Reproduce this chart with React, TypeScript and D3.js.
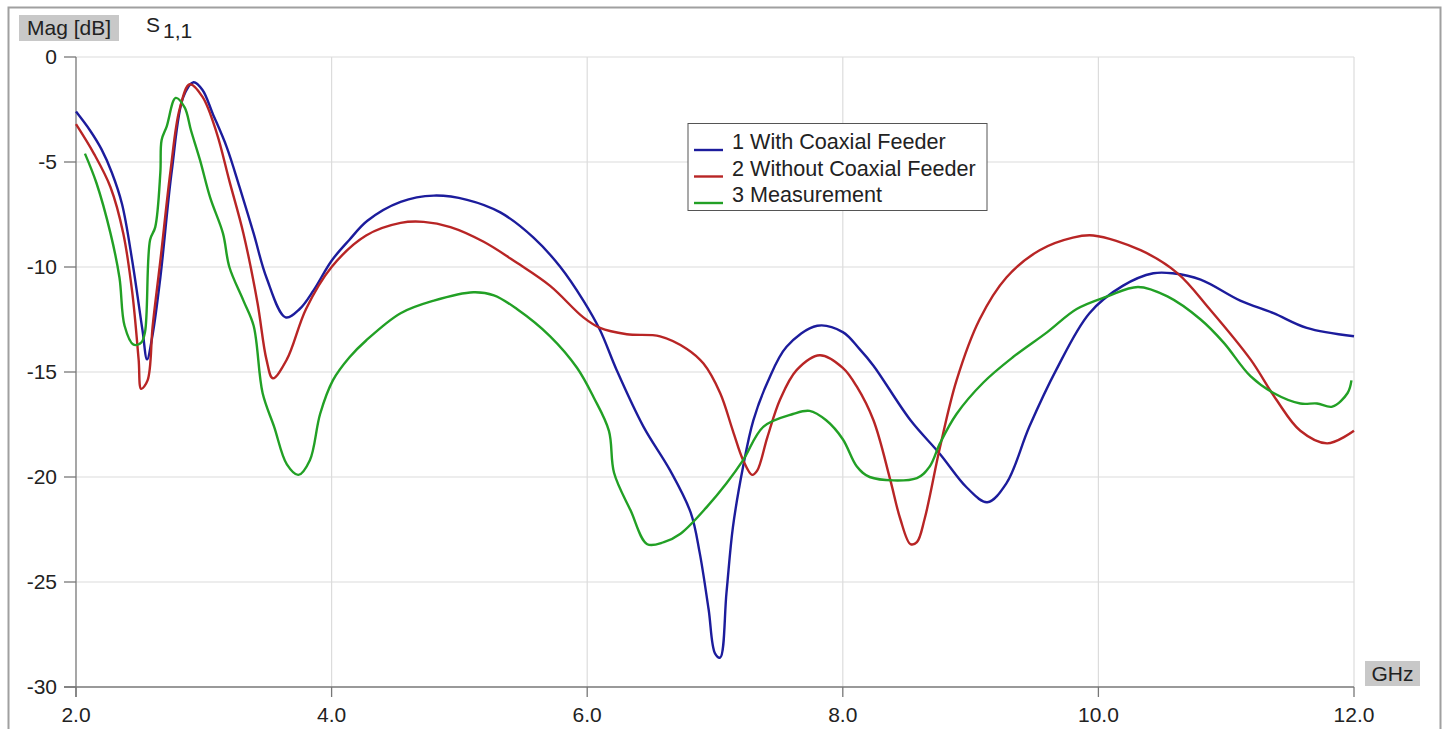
import React from "react";
import * as d3 from "d3";

const xTicks = [2, 4, 6, 8, 10, 12];
const yTicks = [0, -5, -10, -15, -20, -25, -30];
const seriesNames = ["1 With Coaxial Feeder", "2 Without Coaxial Feeder", "3 Measurement"];
const seriesColors = ["#1c1c9c", "#b82525", "#22a025"];

const withFreq = [2.0, 2.11, 2.2, 2.28, 2.36, 2.44, 2.52, 2.556, 2.6, 2.66, 2.75, 2.84, 2.92, 2.99, 3.07, 3.18, 3.28, 3.39, 3.49, 3.64, 3.75, 3.86, 4.0, 4.14, 4.28, 4.54, 4.8, 5.06, 5.32, 5.58, 5.79, 5.97, 6.1, 6.23, 6.44, 6.65, 6.81, 6.88, 6.95, 7.0, 7.04, 7.09, 7.14, 7.22, 7.3, 7.41, 7.56, 7.8, 8.0, 8.13, 8.24, 8.53, 8.76, 8.97, 9.13, 9.28, 9.46, 9.67, 9.93, 10.19, 10.43, 10.58, 10.8, 11.11, 11.37, 11.63, 12.0];
const withMag = [-2.6, -3.5, -4.4, -5.5, -7.0, -9.7, -13.0, -14.4, -13.2, -10.5, -5.4, -1.9, -1.2, -1.57, -2.7, -4.3, -6.2, -8.4, -10.5, -12.4, -12.0, -11.1, -9.7, -8.7, -7.8, -6.9, -6.6, -6.8, -7.4, -8.6, -10.0, -11.6, -13.0, -14.9, -17.6, -19.7, -21.7, -23.6, -26.3, -28.4, -28.6, -25.5, -22.4, -19.5, -17.3, -15.5, -13.8, -12.8, -13.1, -13.9, -14.7, -17.3, -18.9, -20.5, -21.2, -20.3, -17.6, -14.9, -12.2, -10.9, -10.3, -10.3, -10.6, -11.6, -12.2, -12.9, -13.3];

const withoutFreq = [2.0, 2.14, 2.27, 2.37, 2.44, 2.49, 2.51, 2.56, 2.6, 2.66, 2.74, 2.81, 2.89, 2.99, 3.1, 3.2, 3.31, 3.42, 3.49, 3.54, 3.65, 3.8, 4.0, 4.27, 4.54, 4.72, 4.93, 5.19, 5.45, 5.71, 5.97, 6.1, 6.31, 6.57, 6.78, 6.91, 7.04, 7.14, 7.22, 7.29, 7.33, 7.41, 7.51, 7.64, 7.82, 8.0, 8.11, 8.24, 8.37, 8.45, 8.53, 8.58, 8.64, 8.76, 8.89, 9.07, 9.28, 9.54, 9.8, 9.96, 10.33, 10.62, 10.87, 11.19, 11.39, 11.58, 11.79, 12.0];
const withoutMag = [-3.2, -4.6, -6.2, -8.4, -11.2, -14.4, -15.8, -15.4, -12.8, -9.7, -5.4, -2.5, -1.3, -1.9, -3.6, -5.9, -8.4, -11.7, -14.4, -15.3, -14.4, -12.0, -10.0, -8.5, -7.9, -7.85, -8.1, -8.8, -9.8, -10.9, -12.4, -12.9, -13.2, -13.3, -13.9, -14.6, -16.0, -17.8, -19.2, -19.9, -19.7, -18.1, -16.3, -14.9, -14.2, -14.8, -15.7, -17.3, -20.1, -22.0, -23.2, -23.1, -22.0, -18.6, -15.4, -12.5, -10.5, -9.2, -8.6, -8.5, -9.2, -10.3, -12.0, -14.4, -16.3, -17.8, -18.4, -17.8];

const measFreq = [2.07, 2.16, 2.27, 2.34, 2.38, 2.45, 2.51, 2.54, 2.58, 2.62, 2.66, 2.67, 2.71, 2.78, 2.85, 2.9, 2.97, 3.05, 3.15, 3.2, 3.31, 3.39, 3.46, 3.55, 3.65, 3.74, 3.83, 3.91, 4.01, 4.14, 4.27, 4.54, 4.8, 5.11, 5.27, 5.45, 5.71, 5.92, 6.05, 6.17, 6.21, 6.34, 6.47, 6.6, 6.73, 6.94, 7.09, 7.22, 7.38, 7.61, 7.74, 7.87, 8.0, 8.11, 8.21, 8.58, 8.68, 8.76, 8.89, 9.1, 9.33, 9.6, 9.83, 10.07, 10.31, 10.54, 10.8, 10.98, 11.19, 11.37, 11.58, 11.71, 11.83, 11.95, 11.98];
const measMag = [-4.6, -6.0, -8.4, -10.5, -12.8, -13.7, -13.6, -13.1, -8.7, -8.1, -5.5, -3.95, -3.3, -1.95, -2.4, -3.5, -4.9, -6.7, -8.4, -10.0, -11.6, -12.8, -16.0, -17.6, -19.4, -19.9, -19.2, -17.0, -15.4, -14.3, -13.5, -12.2, -11.6, -11.2, -11.35, -12.0, -13.3, -14.8, -16.2, -17.8, -19.8, -21.6, -23.2, -23.1, -22.7, -21.4, -20.3, -19.2, -17.6, -17.0, -16.85, -17.3, -18.2, -19.5, -20.0, -20.05, -19.5, -18.4, -17.0, -15.5, -14.3, -13.1, -12.0, -11.4, -10.95, -11.4, -12.5, -13.6, -15.2, -16.0, -16.5, -16.5, -16.65, -16.0, -15.4];

const seriesFreqs = [withFreq, withoutFreq, measFreq];
const seriesMags = [withMag, withoutMag, measMag];

export default function App() {
  const W = 1446, H = 729;
  const left = 76, right = 1354, top = 57, bottom = 687;
  const x = d3.scaleLinear().domain([2, 12]).range([left, right]);
  const y = d3.scaleLinear().domain([0, -30]).range([top, bottom]);
  const font = "'Liberation Sans', Arial, sans-serif";

  const paths = seriesFreqs.map((fs, i) => {
    const pts: [number, number][] = fs.map((f, j) => [f, seriesMags[i][j]]);
    const line = d3.line<[number, number]>()
      .x(d => x(d[0]))
      .y(d => y(d[1]))
      .curve(d3.curveCatmullRom.alpha(0.5));
    return line(pts) || "";
  });

  return (
    <svg width={W} height={H} style={{ position: "absolute", left: 0, top: 0, background: "#fff" }} fontFamily={font}>
      <rect x={0} y={0} width={W} height={H} fill="#fff" />
      {/* outer frame */}
      <path d={`M8.5,${H + 5} V7.5 H1440.5 V${H + 5}`} fill="none" stroke="#a0a0a0" strokeWidth={2} />
      {/* grid */}
      {yTicks.filter(t => t !== -30).map(t => (
        <line key={"gy" + t} x1={left} x2={right} y1={y(t)} y2={y(t)} stroke="#dcdcdc" strokeWidth={1.2} />
      ))}
      {xTicks.filter(t => t !== 2).map(t => (
        <line key={"gx" + t} x1={x(t)} x2={x(t)} y1={top} y2={bottom} stroke="#dcdcdc" strokeWidth={1.2} />
      ))}
      {/* axes */}
      <line x1={left} x2={left} y1={top} y2={bottom + 10} stroke="#777" strokeWidth={1.3} />
      <line x1={left - 12} x2={right} y1={bottom} y2={bottom} stroke="#777" strokeWidth={1.3} />
      {yTicks.map(t => (
        <g key={"ty" + t}>
          <line x1={left - 12} x2={left} y1={y(t)} y2={y(t)} stroke="#777" strokeWidth={1.3} />
          <text x={57} y={y(t)} dy="0.35em" textAnchor="end" fontSize={21} fill="#222">{t}</text>
        </g>
      ))}
      {xTicks.map(t => (
        <g key={"tx" + t}>
          <line x1={x(t)} x2={x(t)} y1={bottom} y2={bottom + 10} stroke="#777" strokeWidth={1.3} />
          <text x={x(t)} y={722} textAnchor="middle" fontSize={21} fill="#222">{t.toFixed(1)}</text>
        </g>
      ))}
      {/* series */}
      {paths.map((d, i) => (
        <path key={"s" + i} d={d} fill="none" stroke={seriesColors[i]} strokeWidth={2.4} strokeLinejoin="round" />
      ))}
      {/* axis labels */}
      <rect x={19} y={15} width={100} height={26} fill="#c8c8c8" />
      <text x={27} y={35} fontSize={21} fill="#222">Mag [dB]</text>
      <text x={146} y={32} fontSize={21} fill="#222">S</text>
      <text x={163} y={38} fontSize={21} fill="#222">1,1</text>
      <rect x={1365} y={661} width={55} height={25} fill="#c8c8c8" />
      <text x={1392.5} y={681} textAnchor="middle" fontSize={21} fill="#222">GHz</text>
      {/* legend */}
      <rect x={688} y={123.5} width={299} height={87} fill="#fff" stroke="#555" strokeWidth={1} />
      {seriesNames.map((n, i) => (
        <g key={"lg" + i}>
          <line x1={694} x2={723} y1={150 + i * 26.5} y2={150 + i * 26.5} stroke={seriesColors[i]} strokeWidth={2.4} />
          <text x={732} y={149 + i * 26.5} fontSize={21.6} fill="#222">{n}</text>
        </g>
      ))}
    </svg>
  );
}
